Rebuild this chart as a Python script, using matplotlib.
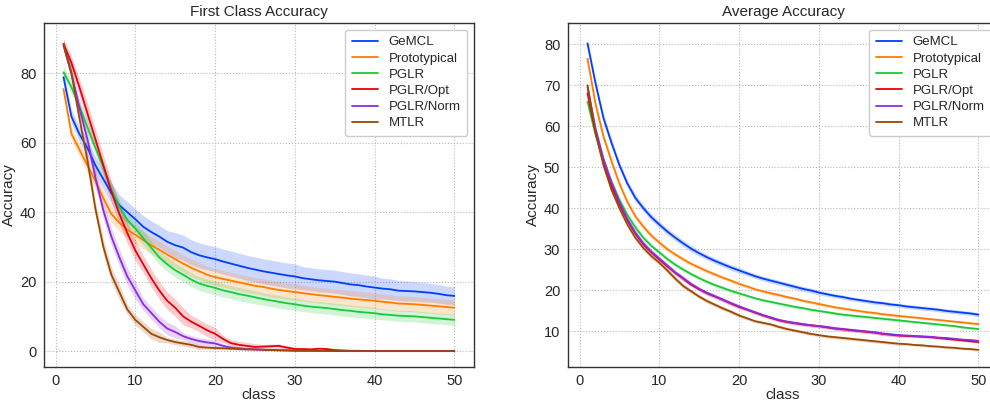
import numpy as np
import matplotlib
matplotlib.use('Agg')
import matplotlib.pyplot as plt
import seaborn as sns

sns.set_style('whitegrid', {'grid.linestyle': ':', 'axes.edgecolor': '.2',
                            'grid.color': '.72'})
plt.rcParams['font.family'] = ['Liberation Sans', 'DejaVu Sans']

classes = np.arange(1, 51)
methods = ['GeMCL', 'Prototypical', 'PGLR', 'PGLR/Opt', 'PGLR/Norm', 'MTLR']
colors = sns.color_palette('bright', 6)

# first class accuracy (left panel), mean per class
fca_gemcl = [78.9, 67.5, 62.5, 58.5, 53.5, 49.5, 45.5, 42.0, 40.0, 38.0,
             35.8, 34.3, 33.0, 31.5, 30.5, 29.8, 28.5, 27.6, 27.0, 26.5,
             25.8, 25.2, 24.6, 24.0, 23.5, 23.0, 22.6, 22.2, 21.8, 21.5,
             21.0, 20.7, 20.4, 20.2, 20.0, 19.6, 19.2, 19.0, 18.6, 18.3,
             18.0, 17.8, 17.4, 17.3, 17.2, 17.0, 16.8, 16.5, 16.1, 15.9]
fca_proto = [75.5, 62.5, 58.0, 53.5, 49.0, 44.0, 39.5, 37.0, 35.0, 33.5,
             32.0, 30.5, 29.2, 27.8, 26.5, 25.2, 24.0, 23.0, 22.0, 21.3,
             20.8, 20.3, 19.8, 19.3, 18.8, 18.5, 18.0, 17.6, 17.3, 17.0,
             16.7, 16.4, 16.1, 15.9, 15.6, 15.4, 15.1, 14.9, 14.7, 14.5,
             14.2, 14.0, 13.7, 13.6, 13.5, 13.3, 13.1, 12.9, 12.7, 12.5]
fca_pglr = [80.3, 76.0, 70.5, 64.5, 58.5, 53.0, 46.5, 41.5, 37.8, 35.3,
            32.5, 29.8, 27.0, 25.0, 23.3, 22.0, 20.6, 19.5, 18.8, 18.2,
            17.5, 17.0, 16.4, 16.0, 15.5, 15.0, 14.6, 14.2, 13.8, 13.5,
            13.1, 12.8, 12.6, 12.4, 12.1, 11.8, 11.6, 11.3, 11.1, 10.9,
            10.6, 10.4, 10.2, 10.1, 10.0, 9.8, 9.6, 9.4, 9.2, 9.0]
fca_opt = [88.5, 83.0, 76.0, 68.5, 61.0, 53.5, 46.0, 39.5, 34.0, 29.0,
           25.0, 21.0, 17.5, 14.5, 12.5, 10.0, 8.5, 7.3, 6.0, 5.0,
           3.5, 2.3, 1.8, 1.5, 1.2, 1.3, 1.4, 1.5, 1.0, 0.6,
           0.6, 0.5, 0.7, 0.6, 0.3, 0.2, 0.1, 0.1, 0.05, 0.05,
           0.0, 0.0, 0.0, 0.0, 0.0, 0.0, 0.0, 0.0, 0.0, 0.0]
fca_norm = [88.0, 80.0, 70.0, 61.0, 50.0, 40.5, 33.0, 27.0, 21.5, 17.5,
            13.5, 11.0, 8.5, 6.5, 5.5, 4.3, 3.5, 2.9, 2.5, 2.2,
            1.5, 1.0, 0.8, 0.6, 0.5, 0.4, 0.3, 0.2, 0.2, 0.1,
            0.1, 0.1, 0.05, 0.05, 0.0, 0.0, 0.0, 0.0, 0.0, 0.0,
            0.0, 0.0, 0.0, 0.0, 0.0, 0.0, 0.0, 0.0, 0.0, 0.0]
fca_mtlr = [88.3, 80.0, 67.0, 55.0, 41.0, 30.0, 22.0, 17.0, 12.0, 9.0,
            7.0, 5.0, 4.0, 3.2, 2.6, 2.2, 1.8, 1.2, 1.0, 0.9,
            0.8, 0.7, 0.6, 0.5, 0.5, 0.4, 0.3, 0.3, 0.2, 0.2,
            0.1, 0.1, 0.1, 0.05, 0.05, 0.0, 0.0, 0.0, 0.0, 0.0,
            0.0, 0.0, 0.0, 0.0, 0.0, 0.0, 0.0, 0.0, 0.0, 0.0]

# half width of the shaded band (left panel)
fca_gemcl_band = [1.8, 2.0, 2.2, 2.4, 2.6, 2.8, 3.0, 3.0, 3.0, 3.0,
                  3.2, 3.2, 3.2, 3.2, 3.6, 3.6, 3.6, 3.6, 3.6, 3.6,
                  3.6, 3.6, 3.6, 3.6, 3.6, 3.6, 3.6, 3.6, 3.6, 3.6,
                  3.3, 3.3, 3.3, 3.3, 3.3, 3.3, 3.3, 3.3, 3.3, 3.3,
                  3.0, 3.0, 2.9, 2.9, 2.8, 2.8, 2.7, 2.7, 2.6, 2.6]
fca_proto_band = [1.5, 1.8, 2.0, 2.2, 2.3, 2.4, 2.5, 2.5, 2.5, 2.5,
                  2.5, 2.5, 2.5, 2.5, 2.5, 2.5, 2.5, 2.5, 2.5, 2.5,
                  2.4, 2.4, 2.4, 2.4, 2.4, 2.4, 2.4, 2.4, 2.4, 2.4,
                  2.3, 2.3, 2.3, 2.3, 2.3, 2.3, 2.3, 2.3, 2.3, 2.3,
                  2.2, 2.2, 2.2, 2.2, 2.2, 2.2, 2.2, 2.2, 2.2, 2.2]
fca_pglr_band = [1.8, 1.9, 2.0, 2.0, 2.0, 2.0, 2.0, 2.0, 2.0, 2.0,
                 2.0, 2.0, 2.0, 2.0, 2.0, 2.0, 2.0, 2.0, 2.0, 2.0,
                 1.9, 1.9, 1.9, 1.9, 1.9, 1.8, 1.8, 1.8, 1.8, 1.8,
                 1.7, 1.7, 1.7, 1.7, 1.7, 1.7, 1.7, 1.7, 1.7, 1.7,
                 1.6, 1.6, 1.6, 1.6, 1.6, 1.6, 1.6, 1.6, 1.6, 1.6]
fca_opt_band = [1.5, 2.0, 2.5, 3.0, 3.0, 3.0, 3.0, 3.0, 3.0, 3.0,
                2.5, 2.5, 2.5, 2.5, 2.5, 2.5, 1.8, 1.8, 1.8, 1.8,
                1.0, 1.0, 1.0, 1.0, 1.0, 0.6, 0.6, 0.6, 0.6, 0.6,
                0.3, 0.3, 0.3, 0.3, 0.3, 0.2, 0.1, 0.1, 0.05, 0.05,
                0.0, 0.0, 0.0, 0.0, 0.0, 0.0, 0.0, 0.0, 0.0, 0.0]
fca_norm_band = [1.5, 2.0, 2.3, 2.5, 2.5, 2.5, 2.5, 2.5, 2.5, 2.5,
                 1.8, 1.8, 1.8, 1.8, 1.8, 1.0, 1.0, 1.0, 1.0, 1.0,
                 0.5, 0.5, 0.4, 0.4, 0.3, 0.3, 0.2, 0.2, 0.1, 0.1,
                 0.1, 0.1, 0.05, 0.05, 0.0, 0.0, 0.0, 0.0, 0.0, 0.0,
                 0.0, 0.0, 0.0, 0.0, 0.0, 0.0, 0.0, 0.0, 0.0, 0.0]
fca_mtlr_band = [1.5, 1.8, 2.0, 2.2, 2.2, 2.2, 2.2, 2.2, 1.5, 1.5,
                 1.5, 1.5, 1.5, 0.8, 0.8, 0.8, 0.8, 0.8, 0.4, 0.4,
                 0.4, 0.3, 0.3, 0.2, 0.2, 0.2, 0.1, 0.1, 0.1, 0.1,
                 0.05, 0.05, 0.05, 0.0, 0.0, 0.0, 0.0, 0.0, 0.0, 0.0,
                 0.0, 0.0, 0.0, 0.0, 0.0, 0.0, 0.0, 0.0, 0.0, 0.0]

# average accuracy (right panel)
avg_gemcl = [80.2, 70.5, 62.0, 56.0, 50.5, 46.0, 42.5, 40.0, 37.8, 36.0,
             34.3, 32.8, 31.4, 30.1, 29.0, 28.0, 27.1, 26.3, 25.5, 24.8,
             24.1, 23.4, 22.8, 22.3, 21.8, 21.3, 20.8, 20.3, 19.9, 19.4,
             19.0, 18.6, 18.3, 17.9, 17.6, 17.3, 17.0, 16.8, 16.5, 16.3,
             16.0, 15.8, 15.6, 15.4, 15.2, 14.9, 14.7, 14.5, 14.3, 14.0]
avg_proto = [76.5, 65.5, 57.5, 51.5, 46.0, 41.5, 38.0, 35.5, 33.3, 31.6,
             30.0, 28.7, 27.5, 26.4, 25.5, 24.6, 23.8, 23.0, 22.3, 21.5,
             20.9, 20.2, 19.7, 19.2, 18.8, 18.3, 17.9, 17.4, 17.0, 16.6,
             16.2, 15.8, 15.5, 15.2, 14.9, 14.6, 14.4, 14.1, 13.9, 13.7,
             13.5, 13.3, 13.1, 12.9, 12.7, 12.5, 12.3, 12.1, 11.9, 11.7]
avg_pglr = [66.0, 58.0, 51.5, 46.5, 42.0, 38.3, 35.3, 32.8, 30.8, 29.2,
            27.6, 26.2, 25.0, 23.9, 22.9, 22.0, 21.2, 20.5, 19.8, 19.2,
            18.6, 18.0, 17.5, 17.1, 16.7, 16.3, 15.9, 15.6, 15.2, 14.9,
            14.6, 14.3, 14.0, 13.8, 13.6, 13.4, 13.2, 13.0, 12.8, 12.6,
            12.4, 12.2, 12.0, 11.8, 11.6, 11.4, 11.2, 10.9, 10.7, 10.5]
avg_opt = [68.0, 58.5, 51.0, 45.5, 41.0, 37.0, 33.8, 31.2, 29.2, 27.5,
           25.8, 24.2, 22.8, 21.3, 20.2, 19.2, 18.4, 17.6, 16.7, 15.9,
           15.2, 14.5, 13.8, 13.2, 12.6, 12.2, 11.9, 11.6, 11.4, 11.2,
           10.9, 10.6, 10.4, 10.2, 10.0, 9.8, 9.6, 9.3, 9.1, 8.9,
           8.8, 8.7, 8.6, 8.5, 8.3, 8.1, 7.9, 7.7, 7.5, 7.3]
avg_norm = [69.5, 59.5, 52.0, 46.3, 41.5, 37.3, 34.0, 31.4, 29.4, 27.7,
            26.0, 24.3, 22.9, 21.5, 20.3, 19.3, 18.5, 17.6, 16.8, 16.0,
            15.3, 14.6, 13.9, 13.3, 12.7, 12.3, 12.0, 11.7, 11.4, 11.2,
            11.0, 10.7, 10.5, 10.3, 10.1, 9.9, 9.7, 9.4, 9.2, 9.0,
            8.9, 8.8, 8.7, 8.6, 8.4, 8.3, 8.1, 7.9, 7.8, 7.6]
avg_mtlr = [70.0, 58.5, 50.5, 44.5, 40.0, 36.0, 32.8, 30.3, 28.3, 26.7,
            24.8, 22.8, 21.0, 19.7, 18.4, 17.3, 16.4, 15.5, 14.7, 13.8,
            13.1, 12.4, 12.0, 11.6, 11.0, 10.5, 10.1, 9.7, 9.3, 9.0,
            8.7, 8.5, 8.3, 8.1, 7.9, 7.7, 7.5, 7.3, 7.1, 6.9,
            6.8, 6.6, 6.5, 6.3, 6.2, 6.0, 5.9, 5.7, 5.6, 5.4]

avg_gemcl_band = [1.2, 1.1, 1.0, 1.0, 0.9, 0.9, 0.9, 0.8, 0.8, 0.8,
                  0.8, 0.8, 0.8, 0.8, 0.7, 0.7, 0.7, 0.7, 0.7, 0.7,
                  0.6, 0.6, 0.6, 0.6, 0.6, 0.6, 0.6, 0.6, 0.6, 0.6,
                  0.5, 0.5, 0.5, 0.5, 0.5, 0.5, 0.5, 0.5, 0.5, 0.5,
                  0.5, 0.5, 0.5, 0.5, 0.5, 0.5, 0.5, 0.5, 0.5, 0.5]
avg_other_band = [1.0, 0.9, 0.9, 0.8, 0.8, 0.7, 0.7, 0.7, 0.6, 0.6,
                  0.6, 0.6, 0.6, 0.5, 0.5, 0.5, 0.5, 0.5, 0.5, 0.5,
                  0.4, 0.4, 0.4, 0.4, 0.4, 0.4, 0.4, 0.4, 0.4, 0.4,
                  0.4, 0.4, 0.4, 0.4, 0.4, 0.4, 0.4, 0.4, 0.4, 0.4,
                  0.3, 0.3, 0.3, 0.3, 0.3, 0.3, 0.3, 0.3, 0.3, 0.3]

left_series = [(fca_gemcl, fca_gemcl_band), (fca_proto, fca_proto_band),
               (fca_pglr, fca_pglr_band), (fca_opt, fca_opt_band),
               (fca_norm, fca_norm_band), (fca_mtlr, fca_mtlr_band)]
right_series = [(avg_gemcl, avg_gemcl_band), (avg_proto, avg_other_band),
                (avg_pglr, avg_other_band), (avg_opt, avg_other_band),
                (avg_norm, avg_other_band), (avg_mtlr, avg_other_band)]

fig = plt.figure(figsize=(9.9, 4.03), dpi=100)
ax1 = fig.add_axes([0.0444, 0.09, 0.4343, 0.853])
ax2 = fig.add_axes([0.5737, 0.09, 0.4343, 0.853])

for ax, series, title in [(ax1, left_series, 'First Class Accuracy'),
                          (ax2, right_series, 'Average Accuracy')]:
    for name, (mean, band), c in zip(methods, series, colors):
        mean = np.array(mean)
        band = np.array(band)
        ax.fill_between(classes, mean - band, mean + band, color=c,
                        alpha=0.2, linewidth=0)
        ax.plot(classes, mean, color=c, linewidth=1.3, label=name)
    ax.set_title(title, fontsize=11, pad=5)
    ax.set_xlabel('class', fontsize=11, labelpad=0)
    ax.set_ylabel('Accuracy', fontsize=11, labelpad=3)
    ax.tick_params(labelsize=10.5, pad=2, colors='.15')
    ax.set_xticks([0, 10, 20, 30, 40, 50])
    for s in ax.spines.values():
        s.set_linewidth(1.0)
    ax.legend(loc='upper right', fontsize=9.5, labelspacing=0.3,
              borderpad=0.5, framealpha=1.0)

ax2.set_yticks([10, 20, 30, 40, 50, 60, 70, 80])

fig.savefig('out.png', dpi=100)
